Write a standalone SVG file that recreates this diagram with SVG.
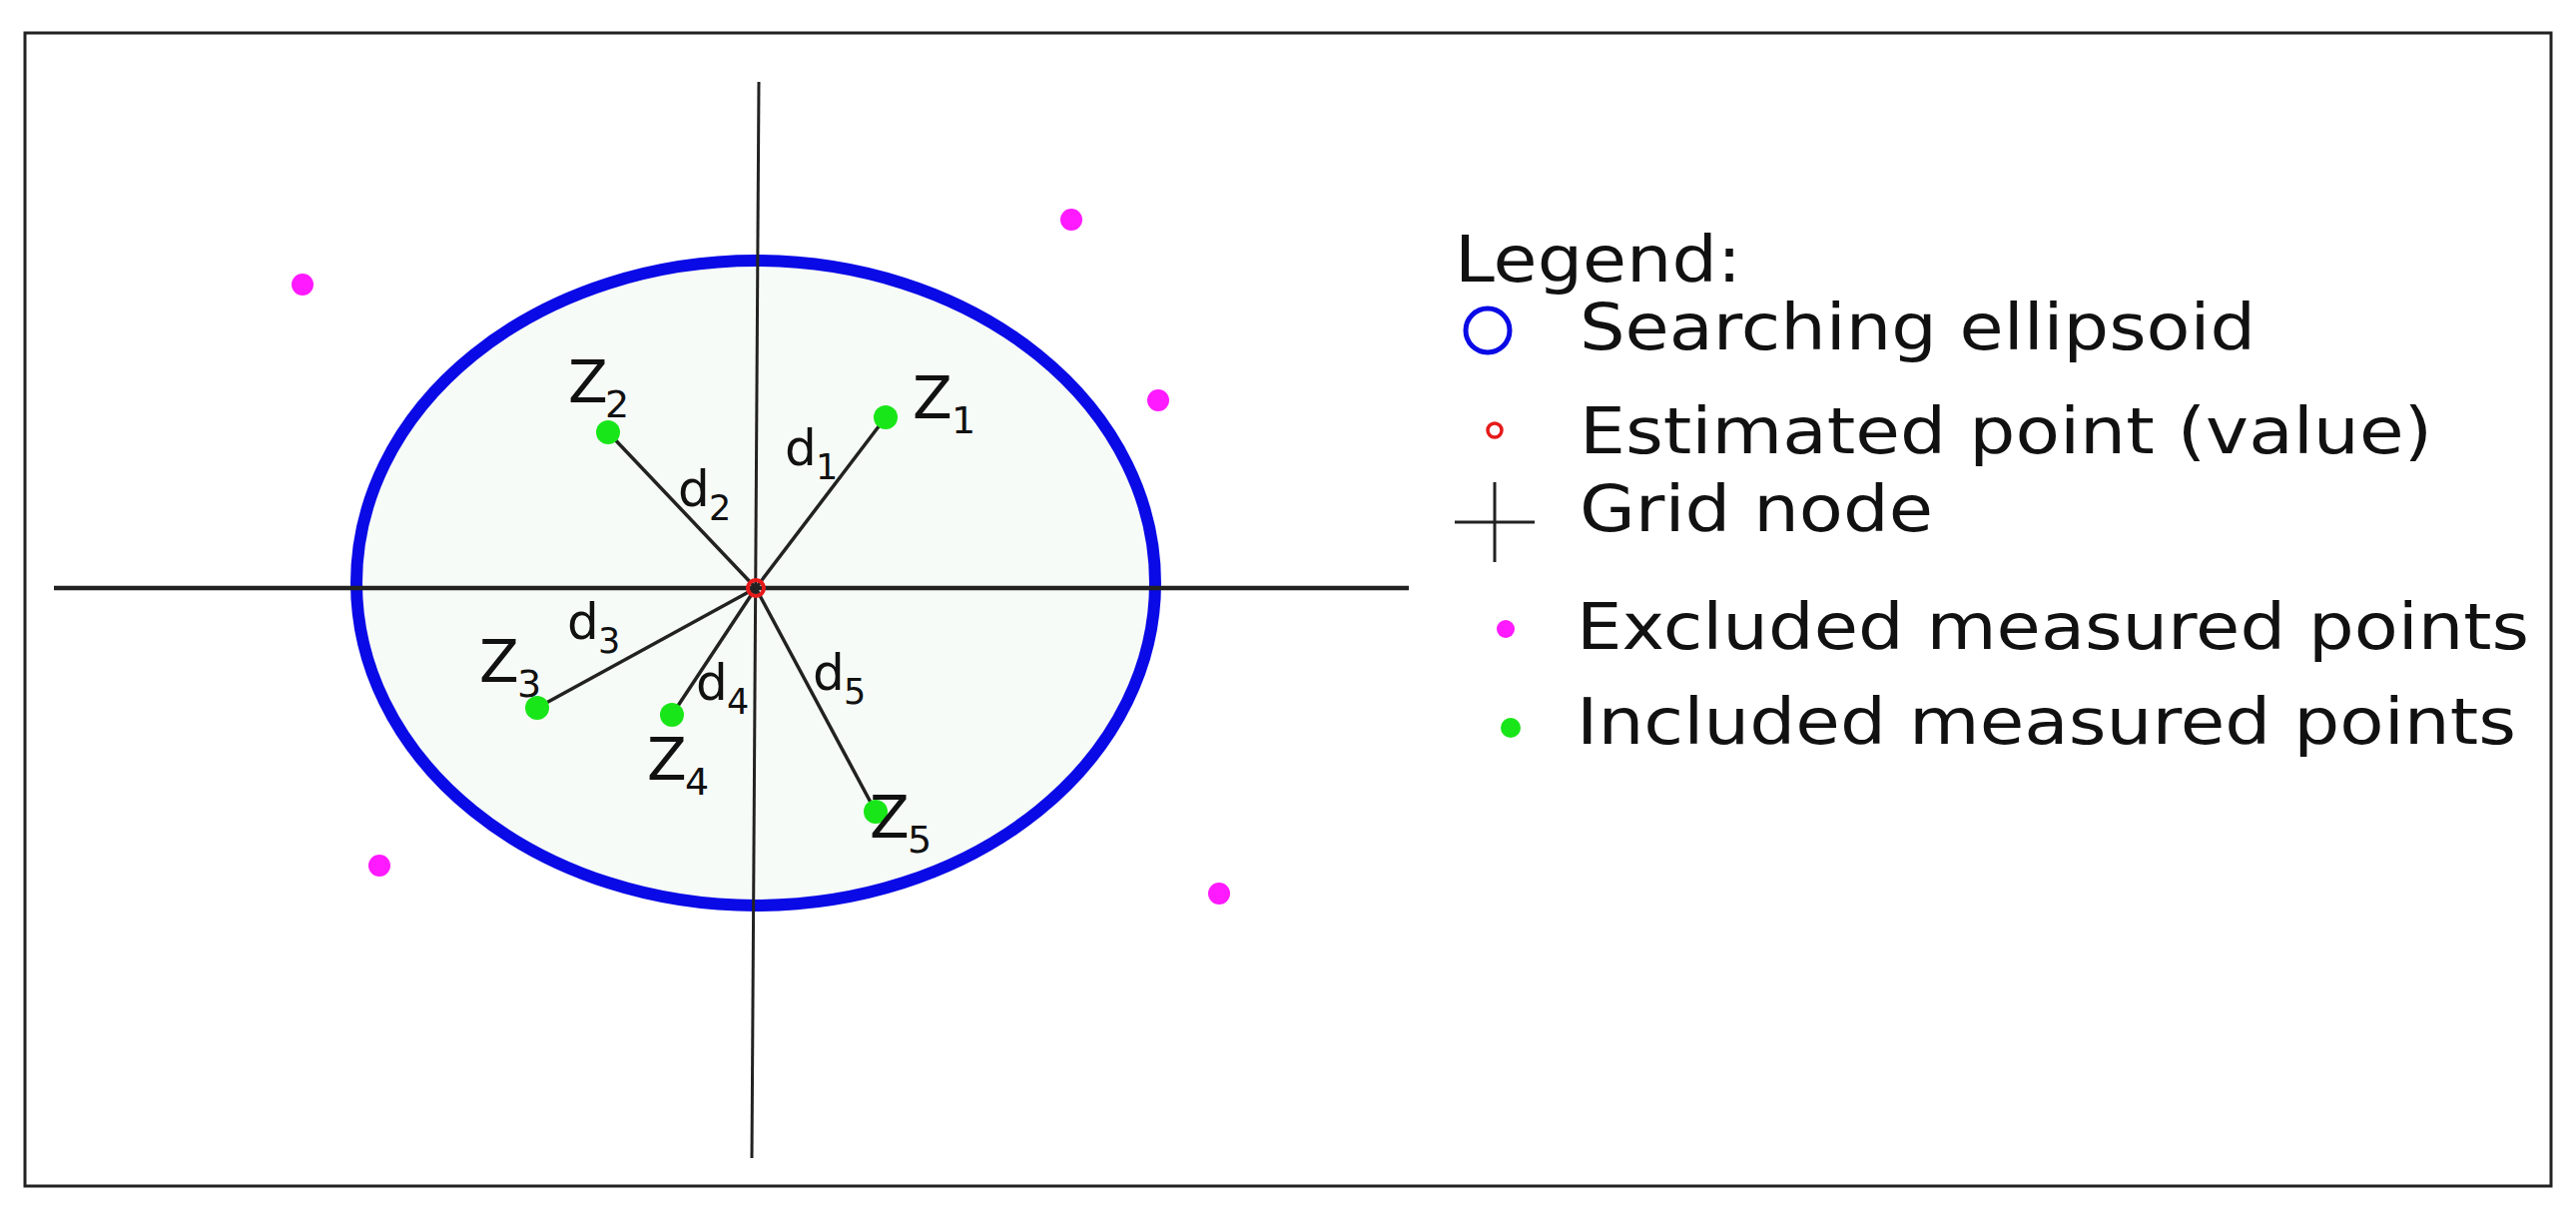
<svg xmlns="http://www.w3.org/2000/svg" width="2580" height="1220" viewBox="0 0 2580 1220">
<style>
text{font-family:"DejaVu Sans","Liberation Sans",sans-serif;fill:#111}
.z{font-size:58px}.zs{font-size:38px}.d{font-size:50px}.ds{font-size:35px}.lg{font-size:64px}
.ln{stroke:#222;stroke-width:3.5}
.g{fill:#19e619}.m{fill:#ff1aff}
</style>
<rect x="0" y="0" width="2580" height="1220" fill="#fff"/>
<rect x="25" y="33" width="2530" height="1155" fill="none" stroke="#222" stroke-width="3"/>
<g id="ellipse"><ellipse cx="757" cy="584" rx="400" ry="323" fill="#f7fbf7" stroke="#0a0ae6" stroke-width="12"/></g>
<g id="axes">
<line x1="54" y1="589" x2="1411" y2="589" stroke="#222" stroke-width="4.5"/>
<line x1="760" y1="82" x2="753" y2="1160" stroke="#222" stroke-width="3"/>
</g>
<g id="connectors">
<line class="ln" x1="757" y1="589" x2="887" y2="418"/>
<line class="ln" x1="757" y1="589" x2="609" y2="433"/>
<line class="ln" x1="757" y1="589" x2="538" y2="709"/>
<line class="ln" x1="757" y1="589" x2="673" y2="716"/>
<line class="ln" x1="757" y1="589" x2="877" y2="813"/>
</g>
<g id="estimated"><circle cx="757" cy="589" r="8" fill="none" stroke="#e61a1a" stroke-width="4"/></g>
<g id="z1"><circle class="g" cx="887" cy="418" r="12"/><text class="z" x="914" y="419">Z</text><text class="zs" x="953" y="434">1</text></g>
<g id="z2"><circle class="g" cx="609" cy="433" r="12"/><text class="z" x="569" y="403">Z</text><text class="zs" x="606" y="418">2</text></g>
<g id="z3"><circle class="g" cx="538" cy="709" r="12"/><text class="z" x="480" y="683">Z</text><text class="zs" x="518" y="698">3</text></g>
<g id="z4"><circle class="g" cx="673" cy="716" r="12"/><text class="z" x="648" y="781">Z</text><text class="zs" x="686" y="796">4</text></g>
<g id="z5"><circle class="g" cx="877" cy="813" r="12"/><text class="z" x="871" y="839">Z</text><text class="zs" x="909" y="854">5</text></g>
<g id="dlabels">
<text class="d" x="786" y="466">d</text><text class="ds" x="817" y="480">1</text>
<text class="d" x="679" y="507">d</text><text class="ds" x="710" y="521">2</text>
<text class="d" x="568" y="640">d</text><text class="ds" x="599" y="654">3</text>
<text class="d" x="697" y="701">d</text><text class="ds" x="728" y="715">4</text>
<text class="d" x="814" y="691">d</text><text class="ds" x="845" y="705">5</text>
</g>
<g id="excluded">
<circle class="m" cx="303" cy="285" r="11"/><circle class="m" cx="1073" cy="220" r="11"/><circle class="m" cx="1160" cy="401" r="11"/><circle class="m" cx="380" cy="867" r="11"/><circle class="m" cx="1221" cy="895" r="11"/>
</g>
<g id="legend">
<text class="lg" x="1457" y="282" textLength="287" lengthAdjust="spacingAndGlyphs">Legend:</text>
<circle cx="1490" cy="331" r="22" fill="none" stroke="#0a0ae6" stroke-width="5"/>
<text class="lg" x="1582" y="350" textLength="677" lengthAdjust="spacingAndGlyphs">Searching ellipsoid</text>
<circle cx="1497" cy="431" r="7" fill="none" stroke="#e61a1a" stroke-width="3.5"/>
<text class="lg" x="1582" y="454" textLength="854" lengthAdjust="spacingAndGlyphs">Estimated point (value)</text>
<line x1="1457" y1="523" x2="1537" y2="523" stroke="#222" stroke-width="3"/>
<line x1="1497" y1="483" x2="1497" y2="563" stroke="#222" stroke-width="3"/>
<text class="lg" x="1582" y="532" textLength="354" lengthAdjust="spacingAndGlyphs">Grid node</text>
<circle class="m" cx="1508" cy="630" r="9"/>
<text class="lg" x="1579" y="650" textLength="954" lengthAdjust="spacingAndGlyphs">Excluded measured points</text>
<circle class="g" cx="1513" cy="729" r="10"/>
<text class="lg" x="1579" y="745" textLength="941" lengthAdjust="spacingAndGlyphs">Included measured points</text>
</g>
</svg>
